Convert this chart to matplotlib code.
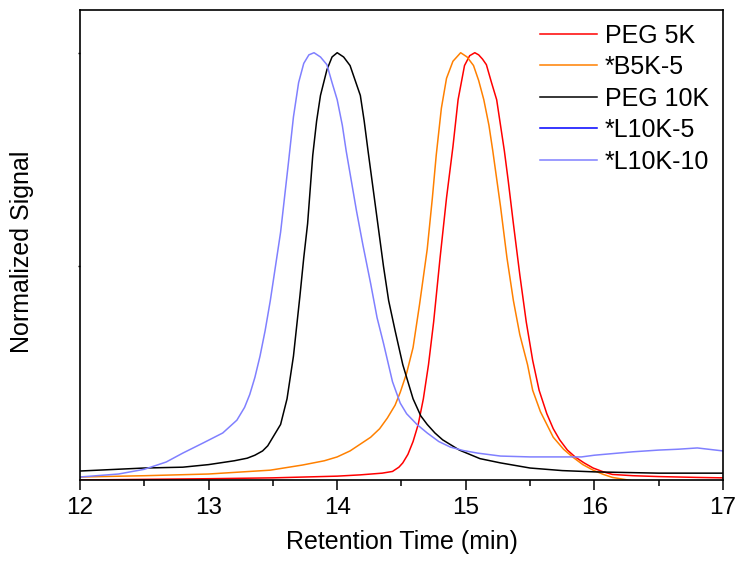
import matplotlib
matplotlib.use("Agg")
import matplotlib.pyplot as plt
from matplotlib.ticker import MultipleLocator

plt.rcParams['font.family'] = ['Liberation Sans', 'DejaVu Sans']

# PEG 5K (red)
peg5k_t = [12.0, 13.0, 13.5, 14.0, 14.18, 14.35, 14.43, 14.48, 14.51, 14.55, 14.59, 14.63,
           14.67, 14.71, 14.75, 14.80, 14.85, 14.90, 14.94, 14.99, 15.03, 15.07, 15.10,
           15.13, 15.16, 15.20, 15.24, 15.27, 15.30, 15.33, 15.37, 15.42, 15.47, 15.52,
           15.57, 15.63, 15.68, 15.73, 15.79, 15.85, 15.92, 15.99, 16.07, 16.14, 16.3,
           16.5, 16.8, 17.0]
peg5k_y = [0.0, 0.003, 0.005, 0.009, 0.012, 0.016, 0.02, 0.03, 0.04, 0.06, 0.09, 0.13,
           0.19, 0.27, 0.37, 0.52, 0.66, 0.78, 0.89, 0.97, 0.993, 1.0, 0.995,
           0.985, 0.972, 0.93, 0.89, 0.83, 0.77, 0.70, 0.60, 0.48, 0.37, 0.28,
           0.21, 0.155, 0.12, 0.094, 0.07, 0.054, 0.04, 0.028, 0.019, 0.013, 0.01,
           0.008, 0.006, 0.005]

# *B5K-5 (orange)
b5k_t = [12.0, 12.5, 13.0, 13.48, 13.73, 13.9, 14.0, 14.1, 14.18, 14.26, 14.33, 14.39,
         14.45, 14.49, 14.54, 14.59, 14.64, 14.70, 14.74, 14.77, 14.81, 14.85, 14.90,
         14.96, 15.01, 15.06, 15.10, 15.14, 15.18, 15.21, 15.27, 15.32, 15.37, 15.42,
         15.48, 15.52, 15.58, 15.68, 15.76, 15.83, 15.91, 15.99, 16.07, 16.14, 16.22,
         16.28, 16.35]
b5k_y = [0.007, 0.01, 0.014, 0.023, 0.035, 0.045, 0.054, 0.068, 0.084, 0.10, 0.12, 0.145,
         0.175, 0.205, 0.25, 0.31, 0.41, 0.54, 0.66, 0.76, 0.87, 0.94, 0.98,
         1.0, 0.99, 0.97, 0.935, 0.89, 0.83, 0.77, 0.64, 0.52, 0.42, 0.34,
         0.27, 0.21, 0.16, 0.10, 0.072, 0.054, 0.036, 0.023, 0.013, 0.006, 0.002,
         -0.001, -0.01]

# PEG 10K (black)
peg10k_t = [12.0, 12.5, 12.8, 13.0, 13.2, 13.3, 13.36, 13.42, 13.46, 13.50, 13.53, 13.56,
            13.61, 13.66, 13.71, 13.74, 13.77, 13.81, 13.84, 13.87, 13.92, 13.96, 14.0,
            14.05, 14.10, 14.14, 14.18, 14.21, 14.24, 14.28, 14.32, 14.36, 14.40, 14.45,
            14.51, 14.59, 14.65, 14.70, 14.76, 14.82, 14.95, 15.11, 15.27, 15.5, 15.75,
            16.0, 16.5, 17.0]
peg10k_y = [0.021, 0.028, 0.03, 0.036, 0.045, 0.051, 0.058, 0.068, 0.08, 0.10, 0.115, 0.13,
            0.19, 0.29, 0.43, 0.52, 0.60, 0.76, 0.84, 0.90, 0.96, 0.99, 1.0,
            0.99, 0.97, 0.935, 0.90, 0.84, 0.77, 0.68, 0.59, 0.50, 0.42, 0.35,
            0.27, 0.19, 0.15, 0.13, 0.11, 0.094, 0.07, 0.05, 0.04, 0.028, 0.022,
            0.019, 0.016, 0.016]

# *L10K-5 (blue) - listed in the legend, trace not visible in the chart
l10k5_t = []
l10k5_y = []

# *L10K-10 (light blue)
l10k10_t = [12.0, 12.3, 12.5, 12.67, 12.80, 12.96, 13.11, 13.22, 13.28, 13.32, 13.36,
            13.40, 13.44, 13.48, 13.52, 13.56, 13.59, 13.62, 13.66, 13.70, 13.74, 13.78,
            13.82, 13.87, 13.92, 13.96, 14.0, 14.04, 14.07, 14.11, 14.15, 14.20, 14.26,
            14.31, 14.36, 14.43, 14.49, 14.54, 14.62, 14.70, 14.79, 14.88, 14.98, 15.09,
            15.27, 15.5, 15.9, 16.0, 16.15, 16.3, 16.5, 16.65, 16.8, 17.0]
l10k10_y = [0.007, 0.014, 0.025, 0.042, 0.063, 0.087, 0.11, 0.14, 0.17, 0.20, 0.24,
            0.29, 0.35, 0.42, 0.50, 0.58, 0.66, 0.74, 0.85, 0.93, 0.975, 0.995,
            1.0, 0.99, 0.972, 0.93, 0.89, 0.83, 0.77, 0.70, 0.63, 0.55, 0.46,
            0.38, 0.32, 0.23, 0.18, 0.155, 0.13, 0.11, 0.09, 0.077, 0.069, 0.063,
            0.056, 0.054, 0.054, 0.058, 0.062, 0.066, 0.07, 0.072, 0.075, 0.068]

series = [
    ("PEG 5K", peg5k_t, peg5k_y, "#FF0000"),
    ("*B5K-5", b5k_t, b5k_y, "#FF8000"),
    ("PEG 10K", peg10k_t, peg10k_y, "#000000"),
    ("*L10K-5", l10k5_t, l10k5_y, "#0000FF"),
    ("*L10K-10", l10k10_t, l10k10_y, "#8080FF"),
]

fig = plt.figure(figsize=(7.35, 5.61), dpi=100)
ax = fig.add_axes([0.1088, 0.1444, 0.8749, 0.8378])

for name, t, y, color in series:
    ax.plot(t, y, color=color, lw=1.1, label=name)

ax.set_xlim(12, 17)
ax.set_ylim(0, 1.1)
ax.xaxis.set_major_locator(MultipleLocator(1))
ax.xaxis.set_minor_locator(MultipleLocator(0.5))
ax.set_yticks([0.5, 1.0])
ax.set_yticklabels([])
ax.tick_params(axis='x', which='major', direction='out', length=7, width=1.1,
               labelsize=17.5, pad=5)
ax.tick_params(axis='x', which='minor', direction='out', length=4, width=1.1)
ax.tick_params(axis='y', which='major', direction='out', length=1.5, width=1)
for s in ax.spines.values():
    s.set_linewidth(1.2)

ax.set_xlabel("Retention Time (min)", fontsize=18, labelpad=8)
ax.set_ylabel("Normalized Signal", fontsize=18)
ax.yaxis.set_label_coords(-0.072, 0.485)

ax.legend(loc='upper right', frameon=False, fontsize=18, handlelength=2.3,
          handletextpad=0.3, labelspacing=0.3, borderaxespad=0.15)

fig.savefig("out.png", dpi=100)
